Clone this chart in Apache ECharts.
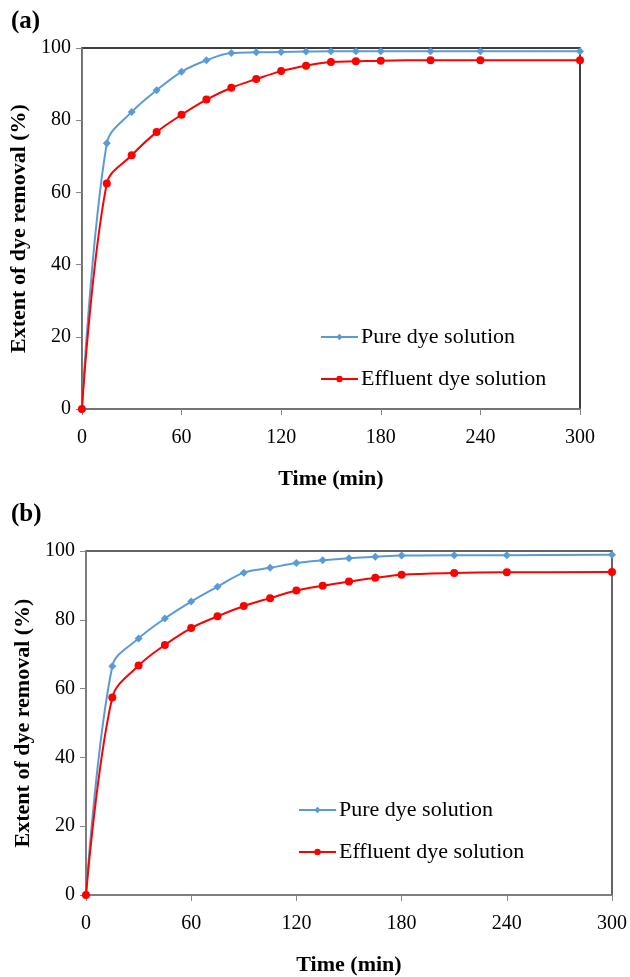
<!DOCTYPE html>
<html><head><meta charset="utf-8">
<script src="https://cdn.jsdelivr.net/npm/echarts@6/dist/echarts.min.js"></script>
<style>html,body{margin:0;padding:0;background:#fff}#c{width:630px;height:977px}</style>
</head><body><div id="c"></div>
<script>
const timeA = [0,15,30,45,60,75,90,105,120,135,150,165,180,210,240,300];
const pureA = [0,73.6,82.3,88.3,93.4,96.6,98.6,98.8,98.9,99.0,99.1,99.1,99.1,99.1,99.1,99.1];
const effA  = [0,62.5,70.3,76.7,81.5,85.7,89.0,91.4,93.6,95.1,96.1,96.3,96.5,96.6,96.6,96.6];
const timeB = [0,15,30,45,60,75,90,105,120,135,150,165,180,210,240,300];
const pureB = [0,66.5,74.6,80.4,85.3,89.6,93.7,95.1,96.5,97.3,97.9,98.3,98.7,98.8,98.8,98.9];
const effB  = [0,57.4,66.7,72.7,77.6,81.0,84.0,86.3,88.5,89.9,91.1,92.2,93.1,93.6,93.8,93.9];
const xTicks = [0,60,120,180,240,300];
const yTicks = [0,20,40,60,80,100];
const seriesNames = ['Pure dye solution','Effluent dye solution'];
const panelLabels = ['(a)','(b)'];

const FONT = 'Liberation Serif';
const pair = (t,v) => t.map((x,i)=>[x,v[i]]);

function xAxis(idx){
  return {type:'value', gridIndex:idx, min:xTicks[0], max:xTicks[xTicks.length-1], interval:xTicks[1]-xTicks[0],
    name:'Time (min)', nameLocation:'middle', nameGap:59,
    nameTextStyle:{fontFamily:FONT, fontWeight:'bold', fontSize:22, color:'#000'},
    axisLine:{show:true, onZero:false, lineStyle:{color:'#868686', width:1.5}},
    axisTick:{show:true, length:6, lineStyle:{color:'#868686'}},
    axisLabel:{fontFamily:FONT, fontSize:20, color:'#000', margin:19},
    splitLine:{show:false}};
}
function yAxis(idx){
  return {type:'value', gridIndex:idx, min:yTicks[0], max:yTicks[yTicks.length-1], interval:yTicks[1]-yTicks[0],
    name:'Extent of dye removal (%)', nameLocation:'middle', nameGap:49, nameRotate:90,
    nameTextStyle:{fontFamily:FONT, fontWeight:'bold', fontSize:22, color:'#000'},
    axisLine:{show:true, lineStyle:{color:'#868686', width:1.5}},
    axisTick:{show:true, length:6, lineStyle:{color:'#868686'}},
    axisLabel:{fontFamily:FONT, fontSize:20, color:'#000', margin:11},
    splitLine:{show:false}};
}
function ser(name, idx, data, color, sym, size){
  return {name, type:'line', xAxisIndex:idx, yAxisIndex:idx, data, smooth:0.35,
    symbol:sym, symbolSize:size, showSymbol:true,
    lineStyle:{color, width:2}, itemStyle:{color}, z:3};
}
const BLUE = '#5b9bd5', RED = '#ff0000';
const legendCommon = {orient:'vertical', padding:0, itemWidth:37, itemHeight:8, itemGap:20,
  textStyle:{fontFamily:FONT, fontSize:22, color:'#000', padding:[0,0,0,-2]}, selectedMode:false};
const chart = echarts.init(document.getElementById('c'), null, {renderer:'canvas'});
chart.setOption({
  animation:false,
  backgroundColor:'#fff',
  grid:[
    {left:79, top:48, width:501, height:361, show:true, borderColor:'#000', borderWidth:1.5, backgroundColor:'transparent'},
    {left:86, top:551, width:526, height:347, show:true, borderColor:'#333', borderWidth:1.5, backgroundColor:'transparent'}
  ],
  title:[
    {text:panelLabels[0], left:11, top:9, padding:0, textStyle:{fontFamily:FONT, fontWeight:'bold', fontSize:25, color:'#000'}},
    {text:panelLabels[1], left:11, top:502, padding:0, textStyle:{fontFamily:FONT, fontWeight:'bold', fontSize:25, color:'#000'}}
  ],
  legend:[
    Object.assign({data:seriesNames.map(n=>({name:n})), left:320, top:326}, legendCommon),
    Object.assign({data:seriesNames.map(n=>({name:n})), left:298, top:799}, legendCommon)
  ],
  xAxis:[xAxis(0), xAxis(1)],
  yAxis:[yAxis(0), yAxis(1)],
  series:[
    ser(seriesNames[0],0,pair(timeA,pureA),BLUE,'diamond',8),
    ser(seriesNames[1],0,pair(timeA,effA),RED,'circle',8),
    ser(seriesNames[0],1,pair(timeB,pureB),BLUE,'diamond',8),
    ser(seriesNames[1],1,pair(timeB,effB),RED,'circle',8)
  ]
});
</script></body></html>
